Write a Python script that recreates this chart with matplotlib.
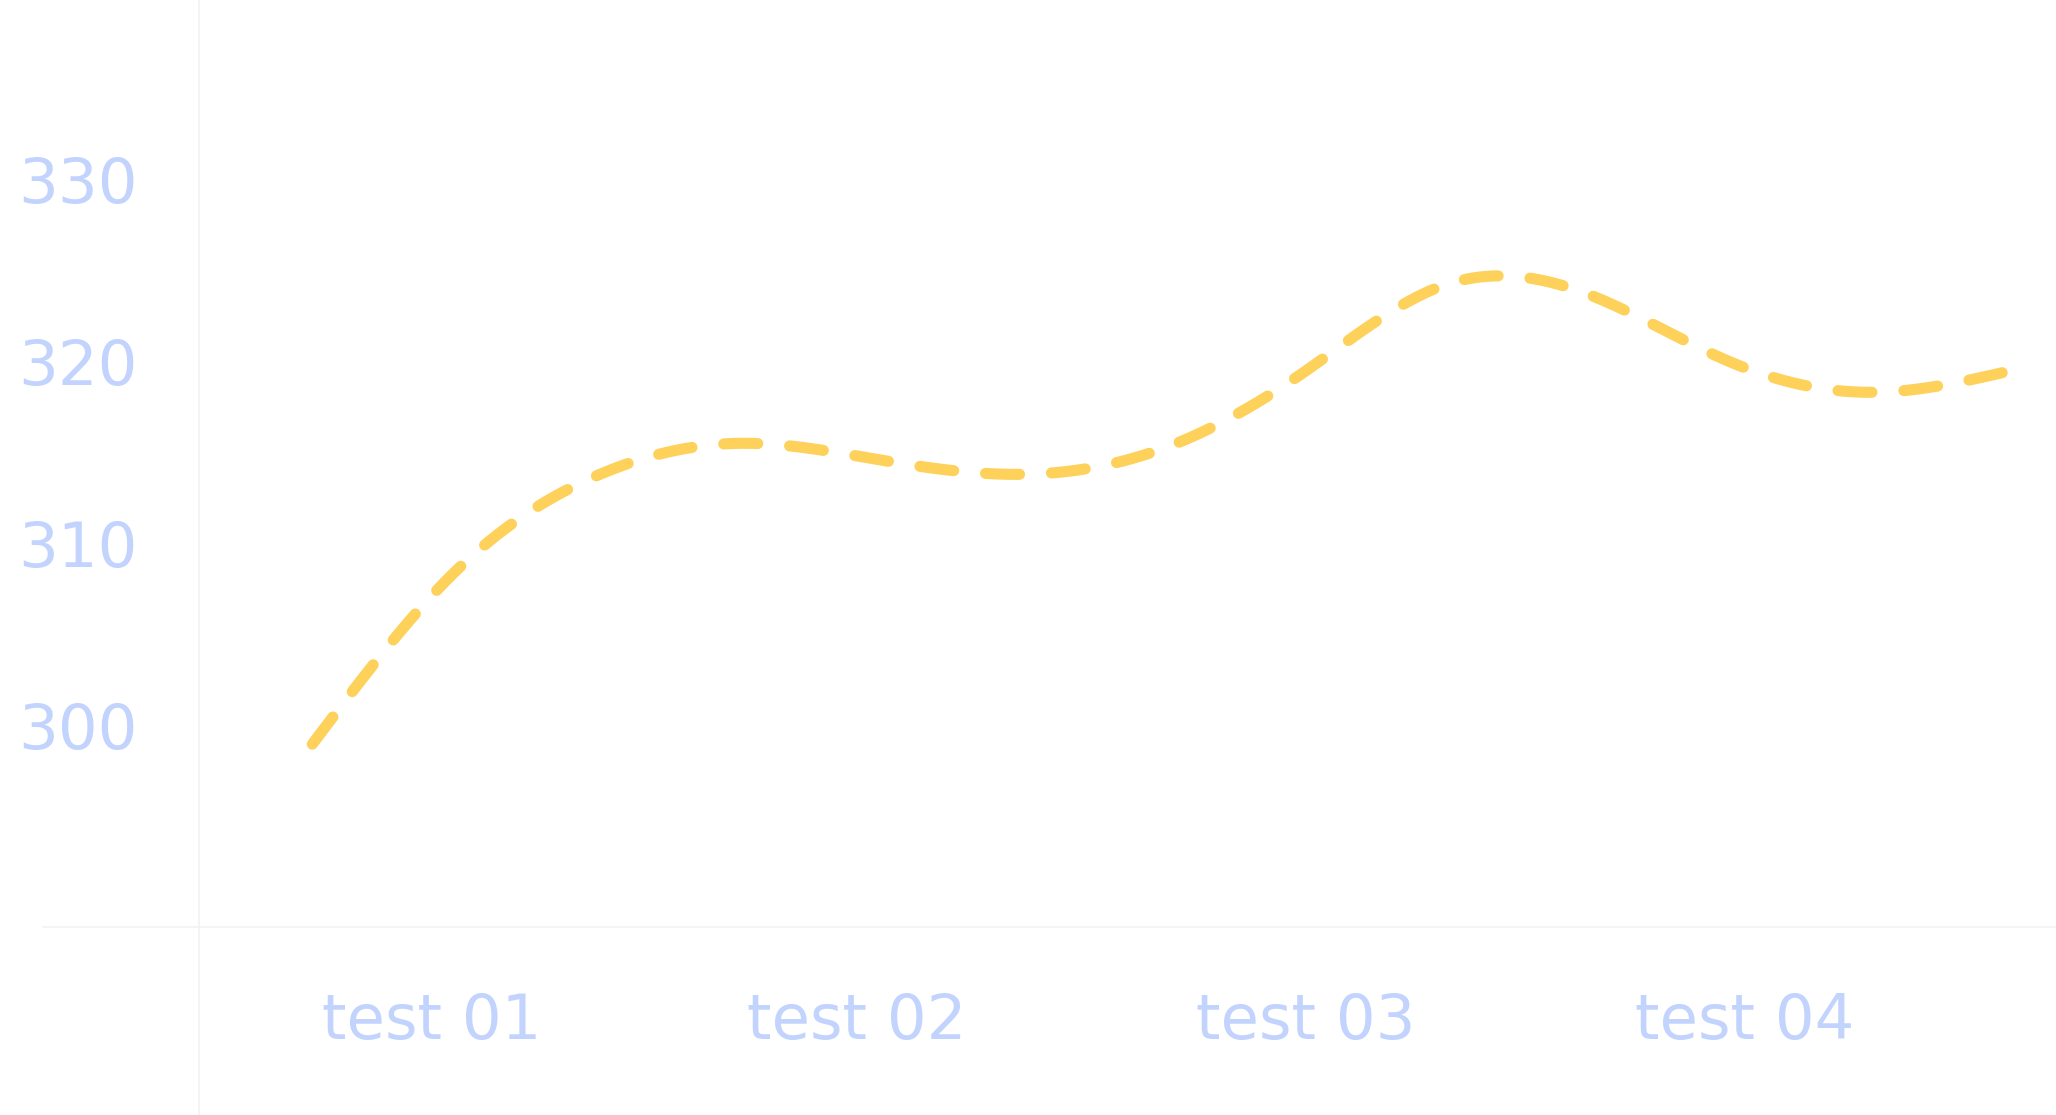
import numpy as np
import matplotlib
matplotlib.use("Agg")
import matplotlib.pyplot as plt
from matplotlib.lines import Line2D

# values (evenly spaced samples)
steps = np.arange(13)
scores = [299.0, 308.4, 313.7, 315.5, 314.6, 313.8, 315.2,
          319.4, 324.2, 323.7, 320.0, 318.3, 319.5]

tick_pos = [0.84, 3.84, 7.01, 10.11]
tick_labels = ["test 01", "test 02", "test 03", "test 04"]
y_ticks = [300, 310, 320, 330]

line_color = "#fed15a"
label_color = "#c2d3fd"
axis_color = "#f2f2f2"

plt.rcParams['lines.scale_dashes'] = False


def natural_spline(x, y, n=600):
    """Natural cubic spline through the knots, used only to draw a smooth line."""
    x = np.asarray(x, float)
    y = np.asarray(y, float)
    k = len(x)
    h = np.diff(x)
    a = np.zeros((k, k))
    b = np.zeros(k)
    a[0, 0] = a[-1, -1] = 1.0
    for i in range(1, k - 1):
        a[i, i - 1] = h[i - 1]
        a[i, i] = 2 * (h[i - 1] + h[i])
        a[i, i + 1] = h[i]
        b[i] = 6 * ((y[i + 1] - y[i]) / h[i] - (y[i] - y[i - 1]) / h[i - 1])
    m = np.linalg.solve(a, b)
    xs = np.linspace(x[0], x[-1], n)
    idx = np.clip(np.searchsorted(x, xs) - 1, 0, k - 2)
    x0, x1 = x[idx], x[idx + 1]
    hh = x1 - x0
    t0, t1 = x1 - xs, xs - x0
    ys = (m[idx] * t0 ** 3 + m[idx + 1] * t1 ** 3) / (6 * hh) \
        + (y[idx] / hh - m[idx] * hh / 6) * t0 \
        + (y[idx + 1] / hh - m[idx + 1] * hh / 6) * t1
    return xs, ys


W, H = 2056, 1115
fig = plt.figure(figsize=(W / 100, H / 100), dpi=100)
fig.patch.set_facecolor("white")

ax_left, ax_bottom = 199, 927  # pixel positions of the axis lines
ax = fig.add_axes([ax_left / W, (H - ax_bottom) / H, 1 - ax_left / W, ax_bottom / H])
ax.set_facecolor("none")
for s in ax.spines.values():
    s.set_visible(False)

xs, ys = natural_spline(steps, scores)
ln, = ax.plot(xs, ys, color=line_color, lw=8.0, solid_capstyle="round",
              dash_capstyle="round")
ln.set_dashes([24.5, 23.0])

ax.set_xlim(-0.80, 12.31)
ax.set_ylim(288.97, 339.82)

ax.set_xticks(tick_pos)
ax.set_xticklabels(tick_labels)
ax.set_yticks(y_ticks)
ax.set_yticklabels([str(v) for v in y_ticks])
ax.tick_params(axis="both", length=0, colors=label_color, labelsize=45)
ax.tick_params(axis="x", pad=47)
ax.tick_params(axis="y", pad=44)

# faint hand-drawn style axis lines
fig.add_artist(Line2D([43 / W, 1], [(H - ax_bottom) / H] * 2,
                      transform=fig.transFigure, color=axis_color, lw=1.2))
fig.add_artist(Line2D([ax_left / W] * 2, [0, 1],
                      transform=fig.transFigure, color=axis_color, lw=1.2))

fig.savefig("out.png", dpi=100, facecolor="white")
